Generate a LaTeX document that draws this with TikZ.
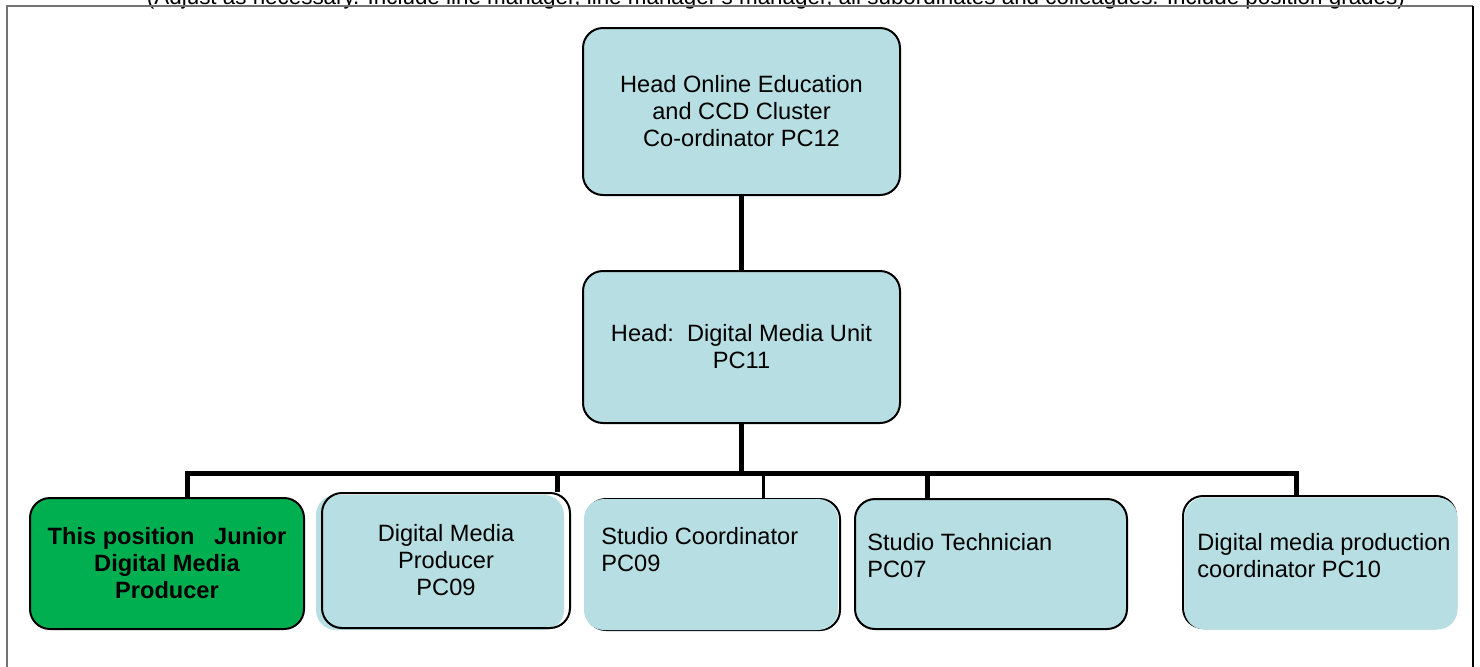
\documentclass[tikz,border=0pt]{standalone}
\usepackage{fontspec}
\setmainfont{Liberation Sans}
\usetikzlibrary{positioning}
\definecolor{boxblue}{RGB}{183,222,226}
\definecolor{posgreen}{RGB}{0,176,80}

\begin{document}
\begin{tikzpicture}[x=0.5pt,y=-0.5pt,
		box/.style={rectangle, rounded corners=10pt, draw, line width=1pt, fill=boxblue, align=center, inner sep=2pt, font=\fontsize{11.8}{13.5}\selectfont},
		txt/.style={inner sep=0pt, align=left, font=\fontsize{11.8}{13.5}\selectfont},
		link/.style={line width=2.5pt},
		thin link/.style={line width=1.5pt}]
	\useasboundingbox (0,0) rectangle (1480,666);
	\node[anchor=base, inner sep=0pt, font=\fontsize{11.2}{13}\selectfont] (note) at (776,4) {(Adjust as necessary. Include line manager, line manager's manager, all subordinates and colleagues. Include position grades)};
	\draw[black!55, line width=1pt] (7,700) |- (1473,6);
	\draw[line width=1pt] (1473,6) -- (1473,700);
	% managers
	\node[box, minimum width=158.5pt, minimum height=83.5pt] (online) at (741.5,111.5) {Head Online Education\\and CCD Cluster\\Co-ordinator PC12};
	\node[box, minimum width=158.5pt, minimum height=76pt] (dmu) at (741.5,347) {Head:\ \ Digital Media Unit\\PC11};
	% unit staff
	\node[box, fill=posgreen, font=\bfseries\fontsize{11.8}{13.5}\selectfont, minimum width=137pt, minimum height=65.5pt] (junior) at (167,563.5) {This position\ \ \ Junior\\Digital Media\\Producer};
	\node[box, fill=none, preaction={fill=boxblue, transform canvas={xshift=-3pt, yshift=-1pt}}, minimum width=124pt, minimum height=67.5pt] (producer) at (446,560.5) {Digital Media\\Producer\\PC09};
	\node[box, draw=none, preaction={draw, line width=1pt, transform canvas={xshift=1pt}}, minimum width=127pt, minimum height=65.5pt] (studio) at (711,564.5) {};
	\node[txt, below right=14.5pt and 9pt of studio.north west] (studiotxt) {Studio Coordinator\\PC09};
	\node[box, minimum width=136pt, minimum height=65pt] (tech) at (991,564) {};
	\node[txt, below right=17.5pt and 6.5pt of tech.north west] (techtxt) {Studio Technician\\PC07};
	\node[box, fill=none, postaction={fill=boxblue, transform canvas={xshift=0.75pt, yshift=-0.75pt}}, minimum width=136.5pt, minimum height=66pt] (prodcoord) at (1319.5,562) {};
	\node[txt, below right=19pt and 7.5pt of prodcoord.north west] (prodcoordtxt) {Digital media production\\coordinator PC10};
	% lines
	\coordinate (bus) at (741.5,473);
	\coordinate (busL) at (187,473);
	\coordinate (busR) at (1296,473);
	\coordinate (j2) at (557,473);
	\coordinate (j3) at (763,473);
	\coordinate (j4) at (927,473);
	\draw[link] (online) -- (dmu);
	\draw[link] (dmu) -- (bus);
	\draw[link] (busL |- junior.north) -- (busL) -- (busR) -- (busR |- prodcoord.north);
	\draw[link] (j2) -- (j2 |- producer.north);
	\draw[thin link] (j3) -- (j3 |- studio.north);
	\draw[link] (j4) -- (j4 |- tech.north);
\end{tikzpicture}
\end{document}
